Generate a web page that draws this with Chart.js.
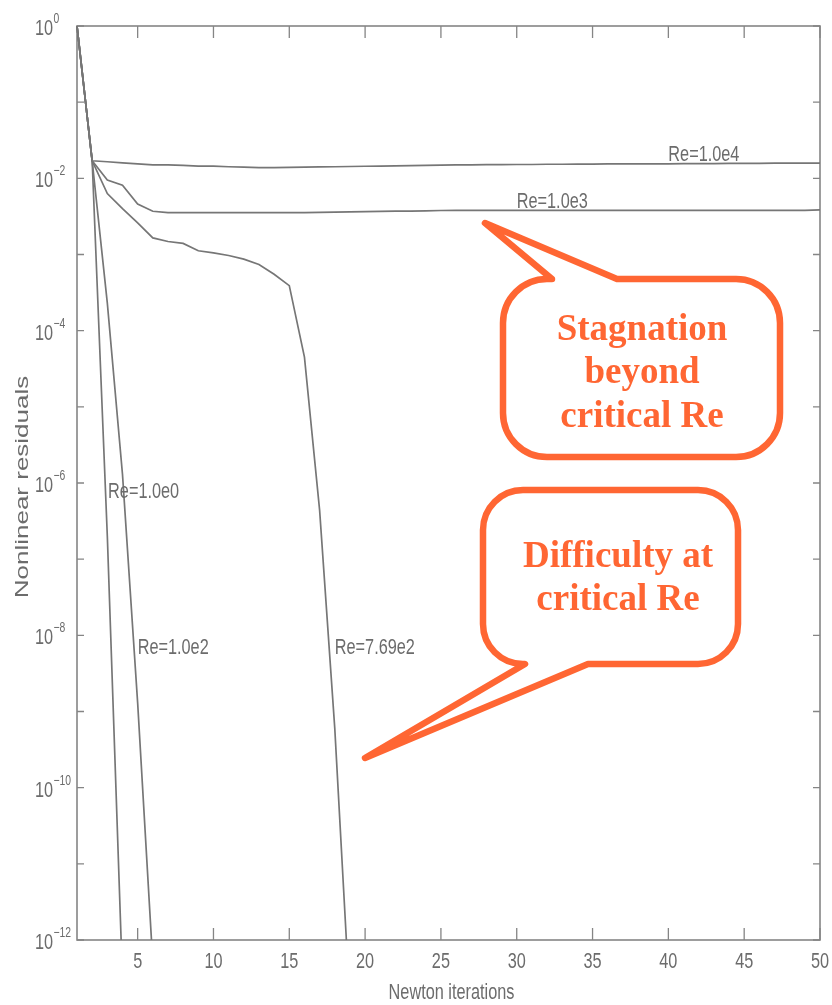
<!DOCTYPE html>
<html>
<head>
<meta charset="utf-8">
<title>Newton convergence vs Reynolds number</title>
<script src="https://cdn.jsdelivr.net/npm/chart.js@4/dist/chart.umd.min.js"></script>
<style>
  html, body { margin: 0; padding: 0; background: #ffffff; }
  canvas { display: block; }
</style>
</head>
<body>
<canvas id="chart" width="832" height="1005"></canvas>
<script>
// Newton iteration counter (x axis categories)
const iterations = [1, 2, 3, 4, 5, 6, 7, 8, 9, 10,
  11, 12, 13, 14, 15, 16, 17, 18, 19, 20,
  21, 22, 23, 24, 25, 26, 27, 28, 29, 30,
  31, 32, 33, 34, 35, 36, 37, 38, 39, 40,
  41, 42, 43, 44, 45, 46, 47, 48, 49, 50];

// Nonlinear residual history for each Reynolds number
const resRe1e0 = [1, 1.7e-2, 2e-7, 3e-13];
const resRe1e2 = [1, 1.7e-2, 2.3e-4, 1.3e-6, 1.3e-9, 5e-13];
const resRe769 = [1, 1.7e-2, 6.3e-3, 4.0e-3, 2.6e-3, 1.65e-3, 1.48e-3, 1.4e-3, 1.12e-3, 1.05e-3,
  9.7e-4, 8.7e-4, 7.4e-4, 5.5e-4, 3.9e-4, 4.5e-5, 4.4e-7, 6e-10, 1.4e-13];
const resRe1e3 = [1, 1.7e-2, 9.5e-3, 8.1e-3, 4.6e-3, 3.7e-3, 3.55e-3, 3.55e-3, 3.55e-3, 3.55e-3,
  3.55e-3, 3.55e-3, 3.55e-3, 3.55e-3, 3.55e-3, 3.55e-3, 3.58e-3, 3.6e-3, 3.62e-3, 3.65e-3,
  3.68e-3, 3.7e-3, 3.72e-3, 3.75e-3, 3.78e-3, 3.8e-3, 3.8e-3, 3.8e-3, 3.8e-3, 3.8e-3,
  3.8e-3, 3.8e-3, 3.8e-3, 3.8e-3, 3.8e-3, 3.8e-3, 3.8e-3, 3.8e-3, 3.8e-3, 3.8e-3,
  3.8e-3, 3.8e-3, 3.8e-3, 3.8e-3, 3.8e-3, 3.8e-3, 3.8e-3, 3.8e-3, 3.8e-3, 3.85e-3];
const resRe1e4 = [1, 1.7e-2, 1.65e-2, 1.6e-2, 1.55e-2, 1.5e-2, 1.5e-2, 1.48e-2, 1.45e-2, 1.45e-2,
  1.42e-2, 1.4e-2, 1.38e-2, 1.38e-2, 1.39e-2, 1.4e-2, 1.41e-2, 1.42e-2, 1.43e-2, 1.44e-2,
  1.45e-2, 1.46e-2, 1.47e-2, 1.48e-2, 1.49e-2, 1.5e-2, 1.5e-2, 1.51e-2, 1.51e-2, 1.52e-2,
  1.52e-2, 1.53e-2, 1.53e-2, 1.54e-2, 1.54e-2, 1.55e-2, 1.55e-2, 1.55e-2, 1.55e-2, 1.55e-2,
  1.56e-2, 1.56e-2, 1.56e-2, 1.57e-2, 1.57e-2, 1.57e-2, 1.58e-2, 1.58e-2, 1.58e-2, 1.58e-2];

// Axis tick values
const xTickValues = [5, 10, 15, 20, 25, 30, 35, 40, 45, 50];
const yTickExponents = [0, -1, -2, -3, -4, -5, -6, -7, -8, -9, -10, -11, -12];
const yLabelExponents = [0, -2, -4, -6, -8, -10, -12];

// Curve labels: text, iteration, residual
const curveLabels = ['Re=1.0e4', 'Re=1.0e3', 'Re=1.0e0', 'Re=1.0e2', 'Re=7.69e2'];
const curveLabelIter = [40, 30, 3.05, 5, 18];
const curveLabelRes = [2.0e-2, 4.9e-3, 7.6e-7, 6.8e-9, 6.8e-9];

const INK = '#767676';
const TEXT = '#6c6c6c';
const ORANGE = '#ff6633';
const SQUEEZE = 0.74;

function narrowText(ctx, text, x, y, size, align, baseline, color) {
  ctx.save();
  ctx.translate(x, y);
  ctx.scale(SQUEEZE, 1);
  ctx.font = size + 'px "Liberation Sans", Arial, sans-serif';
  ctx.fillStyle = color || TEXT;
  ctx.textAlign = align;
  ctx.textBaseline = baseline;
  ctx.fillText(text, 0, 0);
  ctx.restore();
}

// Frame, inward ticks and tick labels
const axesPlugin = {
  id: 'matlabAxes',
  beforeDatasetsDraw(chart) {
    const { ctx, chartArea: a, scales: { x, y } } = chart;
    ctx.save();
    ctx.strokeStyle = '#858585';
    ctx.lineWidth = 1.6;
    ctx.strokeRect(a.left, a.top, a.right - a.left, a.bottom - a.top);
    ctx.lineWidth = 1.3;
    ctx.beginPath();
    xTickValues.forEach(v => {
      const px = x.getPixelForValue(iterations.indexOf(v));
      ctx.moveTo(px, a.bottom); ctx.lineTo(px, a.bottom - 12);
      ctx.moveTo(px, a.top); ctx.lineTo(px, a.top + 12);
    });
    yTickExponents.forEach(e => {
      const py = y.getPixelForValue(Math.pow(10, e));
      ctx.moveTo(a.left, py); ctx.lineTo(a.left + 7, py);
      ctx.moveTo(a.right, py); ctx.lineTo(a.right - 7, py);
    });
    ctx.stroke();
    ctx.restore();

    // x tick labels
    xTickValues.forEach(v => {
      const px = x.getPixelForValue(iterations.indexOf(v));
      narrowText(ctx, String(v), px, a.bottom + 22, 22, 'center', 'middle');
    });
    // y tick labels as powers of ten
    yLabelExponents.forEach(e => {
      const py = y.getPixelForValue(Math.pow(10, e));
      narrowText(ctx, '10', 35, py + 3, 22, 'left', 'middle');
      const sup = e === 0 ? '0' : '\u2212' + String(-e);
      narrowText(ctx, sup, 53.5, py - 7, 14, 'left', 'middle');
    });

    // axis titles
    narrowText(ctx, 'Newton iterations', (a.left + a.right) / 2 + 3, a.bottom + 53, 22, 'center', 'middle');
    ctx.save();
    ctx.translate(23, 487);
    ctx.rotate(-Math.PI / 2);
    ctx.scale(1, SQUEEZE);
    ctx.font = '26px "Liberation Sans", Arial, sans-serif';
    ctx.fillStyle = TEXT;
    ctx.textAlign = 'center';
    ctx.textBaseline = 'middle';
    ctx.fillText('Nonlinear residuals', 0, 0);
    ctx.restore();
  },
  afterDatasetsDraw(chart) {
    const { ctx, scales: { x, y } } = chart;
    curveLabels.forEach((t, i) => {
      const px = x.getPixelForValue(curveLabelIter[i] - 1);
      const py = y.getPixelForValue(curveLabelRes[i]);
      narrowText(ctx, t, px, py, 22, 'left', 'middle');
    });
  }
};

// Speech-bubble callouts
function bubbleTop(ctx, L, T, R, B, r, baseA, baseB, tipX, tipY) {
  ctx.beginPath();
  ctx.moveTo(baseB, T);
  ctx.lineTo(R - r, T);
  ctx.arcTo(R, T, R, T + r, r);
  ctx.lineTo(R, B - r);
  ctx.arcTo(R, B, R - r, B, r);
  ctx.lineTo(L + r, B);
  ctx.arcTo(L, B, L, B - r, r);
  ctx.lineTo(L, T + r);
  ctx.arcTo(L, T, L + r, T, r);
  ctx.lineTo(baseA, T);
  ctx.lineTo(tipX, tipY);
  ctx.closePath();
}
function bubbleBottom(ctx, L, T, R, B, r, baseA, baseB, tipX, tipY) {
  ctx.beginPath();
  ctx.moveTo(baseB, B);
  ctx.lineTo(tipX, tipY);
  ctx.lineTo(baseA, B);
  ctx.arcTo(L, B, L, B - r, r);
  ctx.lineTo(L, T + r);
  ctx.arcTo(L, T, L + r, T, r);
  ctx.lineTo(R - r, T);
  ctx.arcTo(R, T, R, T + r, r);
  ctx.lineTo(R, B - r);
  ctx.arcTo(R, B, R - r, B, r);
  ctx.closePath();
}

const calloutPlugin = {
  id: 'callouts',
  afterDraw(chart) {
    const ctx = chart.ctx;
    ctx.save();
    ctx.lineWidth = 6.5;
    ctx.lineJoin = 'round';
    ctx.strokeStyle = ORANGE;
    ctx.fillStyle = '#ffffff';

    bubbleTop(ctx, 503, 279, 780, 457, 44, 552, 617, 485, 223);
    ctx.fill(); ctx.stroke();

    bubbleBottom(ctx, 483, 490, 738, 664, 40, 525, 588, 365, 758);
    ctx.fill(); ctx.stroke();

    ctx.fillStyle = ORANGE;
    ctx.font = 'bold 37px "Liberation Serif", "Times New Roman", serif';
    ctx.textAlign = 'center';
    ctx.textBaseline = 'middle';
    ctx.fillText('Stagnation', 642, 330);
    ctx.fillText('beyond', 642, 373);
    ctx.fillText('critical Re', 642, 417);
    ctx.fillText('Difficulty at', 618, 557);
    ctx.fillText('critical Re', 618, 600);
    ctx.restore();
  }
};

function series(values) {
  return {
    data: values,
    borderColor: INK,
    borderWidth: 1.7,
    pointRadius: 0,
    fill: false,
    tension: 0,
    spanGaps: false
  };
}

new Chart(document.getElementById('chart').getContext('2d'), {
  type: 'line',
  data: {
    labels: iterations,
    datasets: [series(resRe1e4), series(resRe1e3), series(resRe769), series(resRe1e2), series(resRe1e0)]
  },
  options: {
    responsive: false,
    animation: false,
    devicePixelRatio: 1,
    layout: { padding: { left: 77, right: 12, top: 26, bottom: 65 } },
    plugins: { legend: { display: false }, tooltip: { enabled: false } },
    scales: {
      x: { type: 'category', display: false, offset: false },
      y: { type: 'logarithmic', display: false, min: 1e-12, max: 1 }
    }
  },
  plugins: [axesPlugin, calloutPlugin]
});
</script>
</body>
</html>
